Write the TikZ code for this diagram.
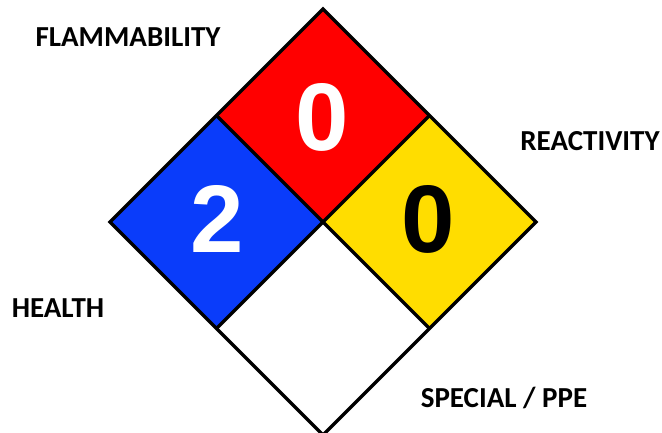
\documentclass[tikz,border=0pt]{standalone}
\usepackage{fontspec}
\setmainfont{Carlito}
\newfontfamily\digitfont{Liberation Sans}
\usetikzlibrary{calc}
\definecolor{nfpared}{RGB}{255,0,0}
\definecolor{nfpablue}{RGB}{10,60,250}
\definecolor{nfpayellow}{RGB}{255,221,0}
\tikzset{
	hazlabel/.style={font=\fontsize{29}{31}\selectfont\bfseries},
	haznum/.style={font=\digitfont\fontsize{96}{96}\selectfont\bfseries},
	edge/.style={line width=3.5pt,line join=miter}
}

\begin{document}
\begin{tikzpicture}[x=1pt,y=1pt]
		
		\useasboundingbox (0,0) rectangle (662,433);
		
		% Outer corners and centre
		\coordinate (C) at (323,211);
		\coordinate (T) at (323,424);
		\coordinate (B) at (323,-2);
		\coordinate (L) at (110,211);
		\coordinate (R) at (536,211);
		\coordinate (TL) at ($(T)!0.5!(L)$);
		\coordinate (TR) at ($(T)!0.5!(R)$);
		\coordinate (BL) at ($(B)!0.5!(L)$);
		\coordinate (BR) at ($(B)!0.5!(R)$);
		
		% Four coloured squares
		\fill[nfpared] (T) -- (TR) -- (C) -- (TL) -- cycle;
		\fill[nfpablue] (L) -- (TL) -- (C) -- (BL) -- cycle;
		\fill[nfpayellow] (R) -- (TR) -- (C) -- (BR) -- cycle;
		\fill[white] (B) -- (BL) -- (C) -- (BR) -- cycle;
		
		% Outlines
		\draw[edge] (T) -- (R) -- (B) -- (L) -- cycle;
		\draw[edge] (TL) -- (BR);
		\draw[edge] (TR) -- (BL);
		
		% Ratings
		\node[haznum,text=white] (fire) at (322,316) {0};
		\node[haznum,text=white] (health) at (217,214) {2};
		\node[haznum,text=black] (react) at (428,214) {0};
		
		% Labels
		\node[hazlabel] (flam) at (128,396) {FLAMMABILITY};
		\node[hazlabel] (reac) at (590,292) {REACTIVITY};
		\node[hazlabel] (heal) at (58,125) {HEALTH};
		\node[hazlabel] (spec) at (504,35) {SPECIAL / PPE};
		
	\end{tikzpicture}
\end{document}
